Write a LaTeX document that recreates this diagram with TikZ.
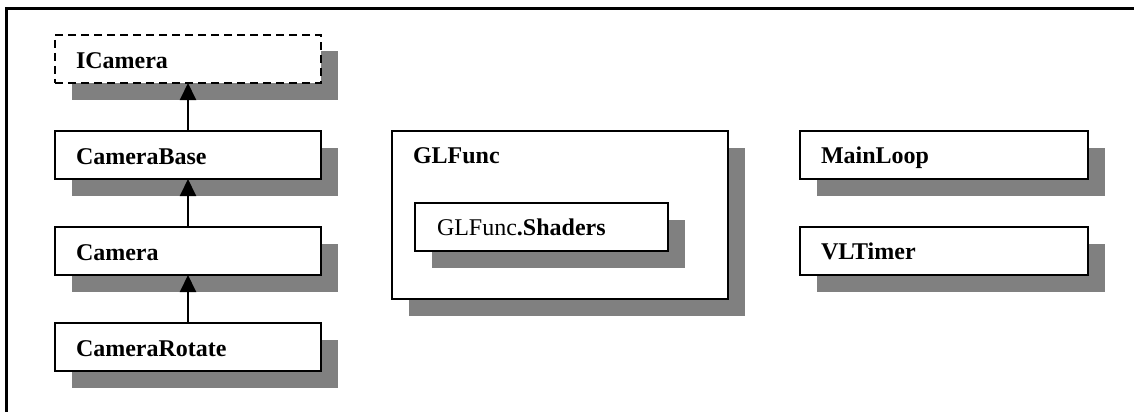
\documentclass[tikz,border=0pt]{standalone}
\usepackage{fontspec}
\setmainfont{Liberation Serif}
\usetikzlibrary{arrows.meta,shadows}

\definecolor{shadowgray}{HTML}{808080}

\tikzset{
  umlbox/.style={
    draw=black, line width=2pt, fill=white, rectangle,
    anchor=north west, align=left,
    inner xsep=21pt, inner ysep=0pt, outer sep=0pt,
    text height=33pt, text depth=15pt,
    font=\fontsize{24}{28}\selectfont\bfseries,
    drop shadow={shadow xshift=16.5pt, shadow yshift=-16.5pt,
                 fill=shadowgray, opacity=1}
  },
  ifacebox/.style={umlbox, dash pattern=on 8pt off 5pt},
  inherit/.style={line width=2pt, -{Triangle[width=16pt,length=17pt]}}
}

\begin{document}
\begin{tikzpicture}[x=1pt, y=-1pt]
  \useasboundingbox (0,0) rectangle (1134,412);

  % enclosing frame (top and left edges)
  \draw[line width=2.6pt] (1134,8.7) -- (6.5,8.7) -- (6.5,412);

  % camera hierarchy
  \node[ifacebox, text width=224pt] (icam)  at (55,35)  {ICamera};
  \node[umlbox,   text width=224pt] (cbase) at (55,131) {CameraBase};
  \node[umlbox,   text width=224pt] (cam)   at (55,227) {Camera};
  \node[umlbox,   text width=224pt] (crot)  at (55,323) {CameraRotate};

  \draw[inherit] (cbase.north) -- (icam.south);
  \draw[inherit] (cam.north)   -- (cbase.south);
  \draw[inherit] (crot.north)  -- (cam.south);

  % GLFunc package with nested Shaders
  \node[umlbox, text width=294pt, text height=32pt, text depth=136pt]
    (glfunc) at (392,131) {GLFunc};
  \node[umlbox, text width=209pt, inner xsep=22pt, text height=32pt, text depth=16pt]
    (shaders) at (415,203) {\mdseries GLFunc\bfseries.Shaders};

  % standalone classes
  \node[umlbox, text width=246pt, inner xsep=21pt, text height=32pt, text depth=16pt]
    (mainloop) at (800,131) {MainLoop};
  \node[umlbox, text width=246pt, inner xsep=21pt, text height=32pt, text depth=16pt]
    (vltimer) at (800,227) {VLTimer};
\end{tikzpicture}
\end{document}
